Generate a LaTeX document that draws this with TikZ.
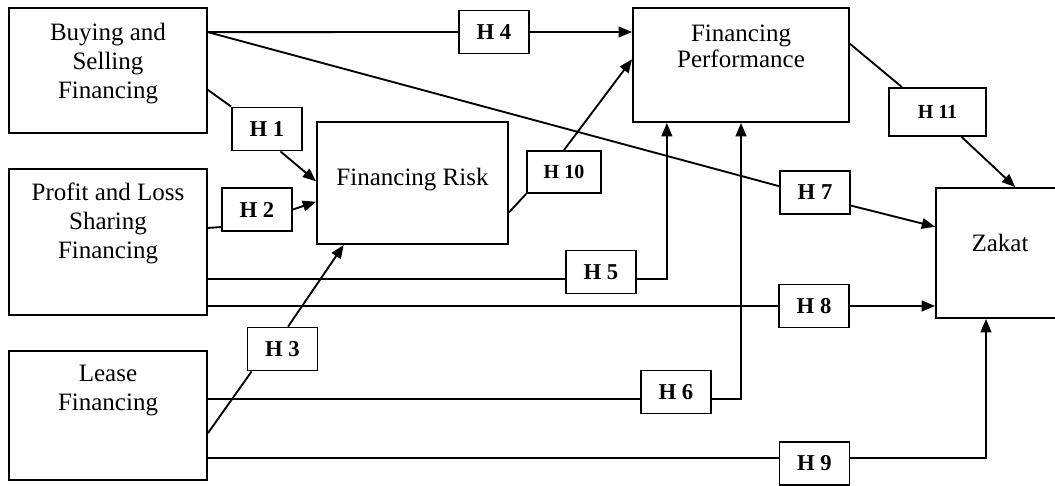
\documentclass[tikz,border=0pt]{standalone}
\usepackage{fontspec}
\setmainfont{Liberation Serif}
\usepackage{tikz}
\usetikzlibrary{arrows.meta, positioning, calc}

\tikzset{
  varbox/.style={draw, line width=1.4pt, inner sep=0pt},
  vartext/.style={inner sep=0pt, align=center, font=\fontsize{18.75}{21.75}\selectfont},
  hbox/.style={draw, fill=white, line width=1.4pt, inner sep=0pt, minimum width=52.5pt, minimum height=32.25pt, font=\fontsize{17}{19}\selectfont\bfseries},
  link/.style={line width=1.4pt},
  arr/.style={line width=1.4pt, -{Triangle[length=10pt, width=8pt]}}
}

\begin{document}
\begin{tikzpicture}[x=0.75pt, y=-0.75pt]
  \useasboundingbox (0,0) rectangle (1055,485);
  \clip (0,0) rectangle (1055,485);

  % variables
  \node[varbox, minimum width=148.5pt, minimum height=93.75pt] (bsf) at (108,70.5) {};
  \node[vartext, below=12pt of bsf.north] (bsf-t) {Buying and\\Selling\\Financing};
  \node[varbox, minimum width=148.5pt, minimum height=109.5pt] (pls) at (108,242) {};
  \node[vartext, below=11.25pt of pls.north] (pls-t) {Profit and Loss\\Sharing\\Financing};
  \node[varbox, minimum width=148.5pt, minimum height=96.75pt] (lf) at (108,415.5) {};
  \node[vartext, below=11.25pt of lf.north] (lf-t) {Lease\\Financing};
  \node[varbox, minimum width=143.25pt, minimum height=91.5pt] (risk) at (412.5,183) {};
  \node[vartext, below=35.25pt of risk.north] (risk-t) {Financing Risk};
  \node[varbox, minimum width=162pt, minimum height=85.5pt] (perf) at (741,65) {};
  \node[vartext, font=\fontsize{18.75}{19.5}\selectfont, below=13.5pt of perf.north] (perf-t) {Financing\\Performance};
  \node[varbox, minimum width=96pt, minimum height=97.5pt] (zakat) at (1000,253) {};
  \node[vartext, below=35.25pt of zakat.north] (zakat-t) {Zakat};

  % hypotheses
  \node[hbox] (h1) at (267,129) {H 1};
  \node[hbox] (h2) at (257,209.5) {H 2};
  \node[hbox] (h3) at (282.5,349) {H 3};
  \node[hbox] (h4) at (494,32) {H 4};
  \node[hbox] (h5) at (601,272) {H 5};
  \node[hbox] (h6) at (676,392) {H 6};
  \node[hbox] (h7) at (815,192.5) {H 7};
  \node[hbox] (h8) at (814,306) {H 8};
  \node[hbox] (h9) at (814.5,463.5) {H 9};
  \node[hbox, minimum width=55.5pt, minimum height=31.5pt, font=\fontsize{15}{17}\selectfont\bfseries] (h10) at (564,172) {H 10};
  \node[hbox, minimum width=72.75pt, minimum height=36pt, font=\fontsize{15}{17}\selectfont\bfseries] (h11) at (937.5,112) {H 11};

  % line levels
  \coordinate (r5) at (0,279);
  \coordinate (r6) at (0,399);
  \coordinate (r9) at (0,458);

  % paths
  \draw[link] (bsf.-11.1) -- (h1.north west);
  \draw[arr] (h1.-59.4) -- (risk.179);
  \draw[link] (pls.8) -- (h2.206.6);
  \draw[arr] (h2.east) -- (risk.191.2);
  \draw[link] (lf.-10) -- (h3.216.7);
  \draw[arr] (h3.76) -- (risk.222.1);
  \draw[link] (bsf.21.3) -- (h4.west);
  \draw[arr] (h4.east) -- (perf.west |- h4.east);
  \draw[link] (bsf.21.3) -- (h7.170.8);
  \draw[arr] (h7.-20.2) -- (zakat.158.7);
  \draw[link] (risk.-17.4) -- (h10.south west);
  \draw[arr] (h10.north) -- (perf.177.9);
  \draw[link] (perf.11.5) -- (h11.145.9);
  \draw[arr] (h11.-46.8) -- (zakat.77);
  \draw[link] (pls.east |- r5) -- (h5.west |- r5);
  \draw[arr] (h5.east |- r5) -| (perf.218);
  \draw[link] (lf.east |- r6) -- (h6.west |- r6);
  \draw[arr] (h6.east |- r6) -| (perf.south);
  \draw[link] (pls.east |- h8.west) -- (h8.west);
  \draw[arr] (h8.east) -- (zakat.west |- h8.east);
  \draw[link] (lf.east |- r9) -- (h9.west |- r9);
  \draw[arr] (h9.east |- r9) -| (zakat.-102.2);
\end{tikzpicture}
\end{document}
